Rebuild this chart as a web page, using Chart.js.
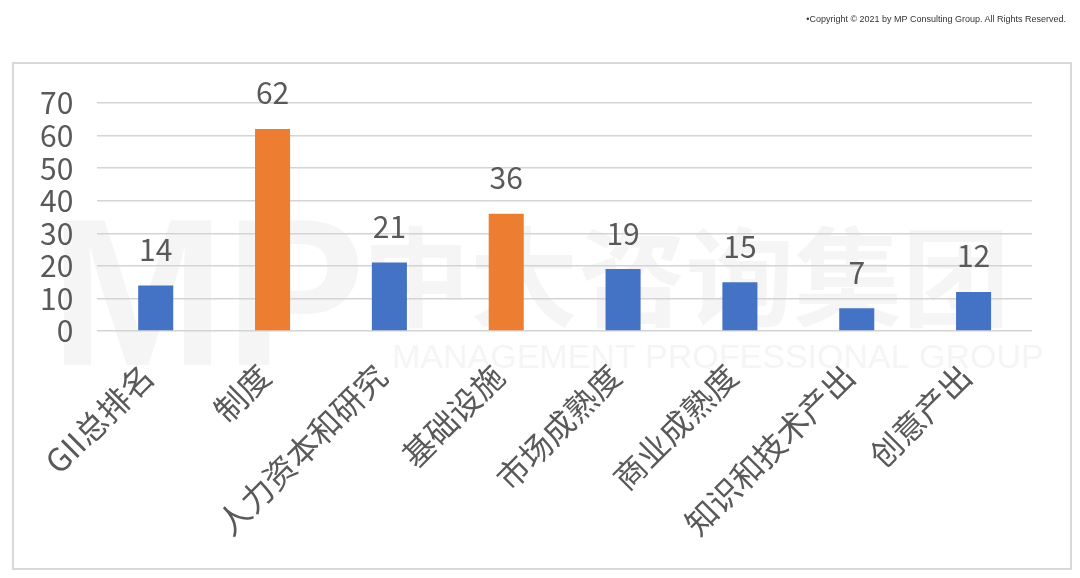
<!DOCTYPE html>
<html>
<head>
<meta charset="utf-8">
<script src="https://cdn.jsdelivr.net/npm/chart.js@4/dist/chart.umd.min.js"></script>
<style>
  body { margin: 0; background: #fff; }
  #wrap { position: relative; width: 1080px; height: 578px; }
  #c { position: absolute; left: 0; top: 0; }
  #frame { position: absolute; left: 12px; top: 62px; width: 1056px; height: 504px;
           border: 2px solid #d9d9d9; pointer-events: none; }
  #copy { position: absolute; right: 14px; top: 14px; font: 9px "Liberation Sans", Arial, sans-serif; color: #333; }
</style>
</head>
<body>
<div id="wrap">
  <canvas id="c" width="1080" height="578"></canvas>
  <div id="frame"></div>
  <div id="copy">•Copyright © 2021 by MP Consulting Group. All Rights Reserved.</div>
</div>
<script>
var categories = ["GII总排名", "制度", "人力资本和研究", "基础设施", "市场成熟度", "商业成熟度", "知识和技术产出", "创意产出"];
var values = [14, 62, 21, 36, 19, 15, 7, 12];
var barColors = ["#4472c4", "#ed7d31", "#4472c4", "#ed7d31", "#4472c4", "#4472c4", "#4472c4", "#4472c4"];

var fontFamily = '"Noto Sans CJK SC", "Noto Sans", sans-serif';

// faint watermark behind the chart
var watermark = {
  id: 'watermark',
  beforeDraw: function (chart) {
    var c = chart.ctx;
    c.save();
    c.fillStyle = "#f5f5f5";
    c.textBaseline = "alphabetic";
    c.font = 'bold 210px "Liberation Sans", sans-serif';
    c.fillText("MP", 50, 365);
    c.font = 'bold 108px ' + fontFamily;
    c.fillText("中大咨询集团", 362, 318);
    c.font = '34px "Liberation Sans", sans-serif';
    c.fillText("MANAGEMENT PROFESSIONAL GROUP", 392, 368);
    c.restore();
  }
};

// value labels above bars
var valueLabels = {
  id: 'valueLabels',
  afterDatasetsDraw: function (chart) {
    var c = chart.ctx;
    var meta = chart.getDatasetMeta(0);
    c.save();
    c.fillStyle = "#595959";
    c.font = '30px ' + fontFamily;
    c.textAlign = "center";
    c.textBaseline = "bottom";
    meta.data.forEach(function (bar, i) {
      c.fillText(values[i], bar.x, bar.y - 21);
    });
    c.restore();
  }
};

new Chart(document.getElementById("c"), {
  type: 'bar',
  data: {
    labels: categories,
    datasets: [{
      data: values,
      backgroundColor: barColors,
      barPercentage: 0.3,
      categoryPercentage: 1.0
    }]
  },
  options: {
    responsive: false,
    animation: false,
    layout: { padding: { left: 16, right: 48, top: 103, bottom: 19 } },
    plugins: { legend: { display: false }, tooltip: { enabled: false } },
    scales: {
      x: {
        grid: { display: false },
        border: { display: false },
        ticks: {
          color: "#595959",
          font: { size: 32, family: fontFamily },
          maxRotation: 45,
          minRotation: 45,
          autoSkip: false,
          padding: 18,
          labelOffset: -8
        }
      },
      y: {
        min: 0,
        max: 70,
        border: { display: false },
        grid: { color: "#d4d4d4", lineWidth: 1.5, drawTicks: false },
        ticks: {
          stepSize: 10,
          autoSkip: false,
          color: "#595959",
          font: { size: 30, family: fontFamily },
          padding: 24
        }
      }
    }
  },
  plugins: [watermark, valueLabels]
});
</script>
</body>
</html>
